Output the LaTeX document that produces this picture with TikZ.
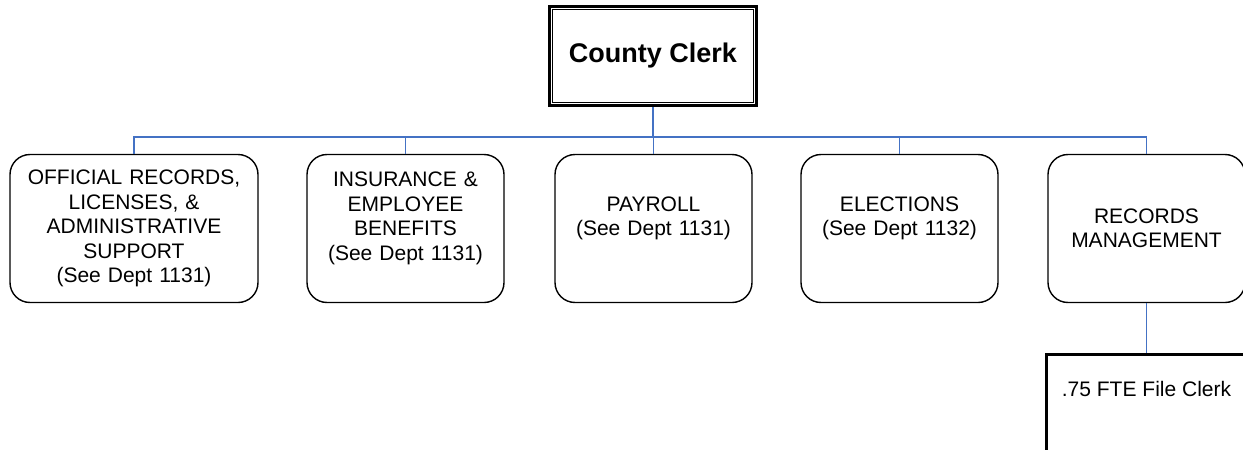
\documentclass[tikz,border=0pt]{standalone}
\usepackage{fontspec}
\setmainfont{Liberation Sans}
\usetikzlibrary{positioning}
\definecolor{linkblue}{RGB}{68,114,196}

\tikzset{
  unit/.style={draw, rounded corners=20pt, line width=1.4pt, inner sep=0pt,
    minimum width=197pt, minimum height=148pt, text width=185pt, align=center,
    font=\fontsize{21}{24.5}\selectfont},
  conn/.style={linkblue, line width=1.5pt},
}

\begin{document}
\begin{tikzpicture}[x=1pt,y=1pt]
\useasboundingbox (0,0) rectangle (1243,-450);

% top of the chart
\node[draw, line width=3pt, minimum width=207pt, minimum height=99pt, inner sep=0pt,
  font=\bfseries\fontsize{27}{30}\selectfont] (clerk) at (653,-56) {County Clerk};
\draw[line width=1.3pt] ([shift={(4.5,-4.5)}]clerk.north west) rectangle ([shift={(-4.5,4.5)}]clerk.south east);

% divisions
\node[unit, minimum width=248pt, text width=236pt] (ofc) at (134,-228.5)
  {OFFICIAL RECORDS,\\LICENSES, \&\\ADMINISTRATIVE\\SUPPORT\\(See Dept 1131)};
\node[unit] (ins) at (405.5,-228.5) {INSURANCE \&\\EMPLOYEE\\BENEFITS\\(See Dept 1131)\\~};
\node[unit] (pay) at (653.5,-228.5) {PAYROLL\\(See Dept 1131)\\~};
\node[unit] (ele) at (899.5,-228.5) {ELECTIONS\\(See Dept 1132)\\~};
\node[unit] (rec) at (1146.5,-228.5) {RECORDS\\MANAGEMENT};

% staff
\node[draw, line width=3pt, below=50pt of rec, minimum width=200pt, inner sep=0pt,
  text height=42pt, text depth=85pt, font=\fontsize{21}{24.5}\selectfont] (fte) {.75 FTE File Clerk};

% connectors
\coordinate (bus) at (653,-137);
\draw[conn] (clerk.south) -- (bus);
\foreach \n in {ofc,ins,pay,ele,rec}
  \draw[conn] (bus) -| (\n.north);
\draw[conn] (rec.south) -- (fte.north);
\end{tikzpicture}
\end{document}
